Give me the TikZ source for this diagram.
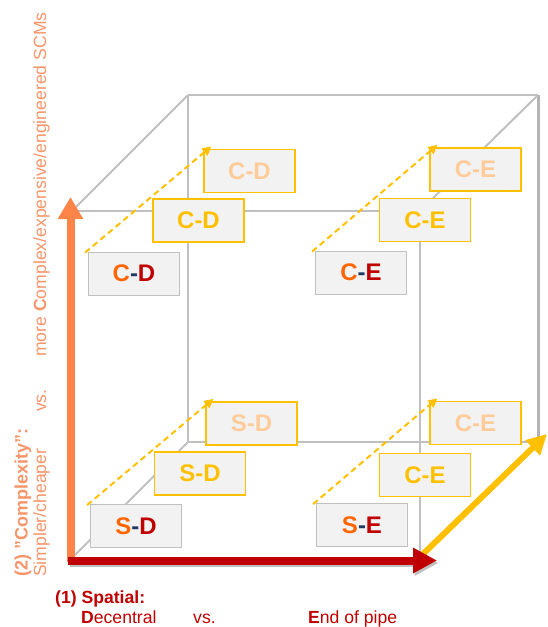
\documentclass[tikz,border=0pt]{standalone}
\usepackage{fontspec}
\setmainfont{Liberation Sans}
\usetikzlibrary{arrows.meta}
\definecolor{cubegray}{HTML}{C0C0C0}
\definecolor{cubedark}{HTML}{B4B4B4}
\definecolor{boxfill}{HTML}{F2F2F2}
\definecolor{gold}{HTML}{FFC000}
\definecolor{peach}{HTML}{FFCC99}
\definecolor{orng}{HTML}{FF6600}
\definecolor{dred}{HTML}{C00000}
\definecolor{navy}{HTML}{1F3864}
\definecolor{arrorange}{HTML}{FF8447}
\definecolor{txtorange}{HTML}{F7956A}
\begin{document}
\begin{tikzpicture}[x=1pt,y=-1pt,
  cubeline/.style={draw=cubegray, line width=2pt},
  cellbox/.style={fill=boxfill, minimum width=91pt, minimum height=43pt, inner sep=0pt,
    font=\fontsize{24}{24}\selectfont\bfseries},
  frontbox/.style={cellbox, draw=cubegray, line width=0.8pt},
  midbox/.style={cellbox, draw=gold, line width=1.3pt, text=gold},
  backbox/.style={cellbox, draw=gold, line width=1.3pt, text=peach},
  depth/.style={draw=gold, line width=2pt, dash pattern=on 6pt off 4pt,
    -{Triangle[length=9pt,width=9pt]}},
  lbl/.style={font=\fontsize{17.6}{20}\selectfont, inner sep=0pt},
  lblb/.style={font=\fontsize{18}{20}\selectfont\bfseries, inner sep=0pt},
]
\useasboundingbox (0,0) rectangle (548,627);
% cube corners
\coordinate (f1) at (72,211);
\coordinate (f2) at (420,211);
\coordinate (f3) at (420,558);
\coordinate (f4) at (72,558);
\coordinate (b1) at (188,95);
\coordinate (b2) at (538,95);
\coordinate (b3) at (538,442);
\coordinate (b4) at (188,442);
% cube edges
\draw[cubeline] (b1) -- (b2);
\draw[cubeline] (b1) -- (b4) -- (b3);
\draw[cubeline, draw=cubedark, line width=3pt] (b2) -- (b3);
\draw[cubeline] (f1) -- (f2) -- (f3);
\draw[cubeline] (f1) -- (b1);
\draw[cubeline] (f2) -- (b2);
\draw[cubeline] (f4) -- (b4);
\draw[cubeline] (f3) -- (b3);
% back boxes
\node[backbox] (cdb) at (249.5,171) {C-D};
\node[backbox] (ceb) at (475.5,169.5) {C-E};
\node[backbox] (sdb) at (251.5,423.5) {S-D};
\node[backbox] (seb) at (475.5,423) {C-E};
% middle boxes
\node[midbox] (cdm) at (198.5,220.5) {C-D};
\node[midbox] (cem) at (425,220) {C-E};
\node[midbox] (sdm) at (200,473.5) {S-D};
\node[midbox] (sem) at (425,475) {C-E};
% front boxes
\node[frontbox] (cdf) at (134,273.5) {\textcolor{orng}{C}\textcolor{navy}{-}\textcolor{dred}{D}};
\node[frontbox] (cef) at (361,272.5) {\textcolor{orng}{C}\textcolor{navy}{-}\textcolor{dred}{E}};
\node[frontbox] (sdf) at (136,526) {\textcolor{orng}{S}\textcolor{navy}{-}\textcolor{dred}{D}};
\node[frontbox] (sef) at (362,525) {\textcolor{orng}{S}\textcolor{navy}{-}\textcolor{dred}{E}};
% depth arrows
\draw[depth] ([xshift=-3pt,yshift=-1pt]cdf.north west) -- ([xshift=8pt,yshift=2.5pt]cdb.north west);
\draw[depth] ([xshift=-3pt,yshift=-1pt]cef.north west) -- ([xshift=8pt,yshift=2.5pt]ceb.north west);
\draw[depth] ([xshift=-3pt,yshift=-1pt]sdf.north west) -- ([xshift=8pt,yshift=2.5pt]sdb.north west);
\draw[depth] ([xshift=-3pt,yshift=-1pt]sef.north west) -- ([xshift=8pt,yshift=2.5pt]seb.north west);
% main axes
\coordinate (ob) at (70.5,562);
\coordinate (ot) at (70.5,197);
\coordinate (rs) at (68,560.5);
\coordinate (re) at (437,560.5);
\coordinate (ys) at (421,556);
\coordinate (ye) at (547,434);
\draw[arrorange, line width=8pt, -{Triangle[length=22pt,width=24pt]}] (ob) -- (ot);
\draw[gold, line width=6pt, -{Triangle[length=20pt,width=20pt]}] (ys) -- (ye);
\draw[black, opacity=0.25, line width=8pt, -{Triangle[length=24pt,width=24pt]}] ([xshift=1.5pt,yshift=-2.5pt]rs) -- ([xshift=1.5pt,yshift=-2.5pt]re);
\draw[dred, line width=8pt, -{Triangle[length=24pt,width=24pt]}] (rs) -- (re);
% bottom labels
\node[lblb, font=\fontsize{17.6}{20}\selectfont\bfseries, text=dred, anchor=base west] (spat) at (55,603) {(1) Spatial:};
\node[lbl, text=dred, anchor=base west] (dec) at (81,623) {\textbf{D}ecentral};
\node[lbl, text=dred, anchor=base west] (vsa) at (193,623) {vs.};
\node[lbl, text=dred, anchor=base west] (eop) at (308,623) {\textbf{E}nd of pipe};
% left labels
\node[lblb, text=txtorange, rotate=90, anchor=base west] (cplx) at (27.5,577) {(2) ”Complexity”:};
\node[lbl, text=txtorange, rotate=90, anchor=base west] (simp) at (46,577) {Simpler/cheaper};
\node[lbl, text=txtorange, rotate=90, anchor=base west] (vsb) at (46,412) {vs.};
\node[lbl, text=txtorange, rotate=90, anchor=base west] (more) at (46,357) {more \textbf{C}omplex/expensive/engineered SCMs};
\end{tikzpicture}
\end{document}
